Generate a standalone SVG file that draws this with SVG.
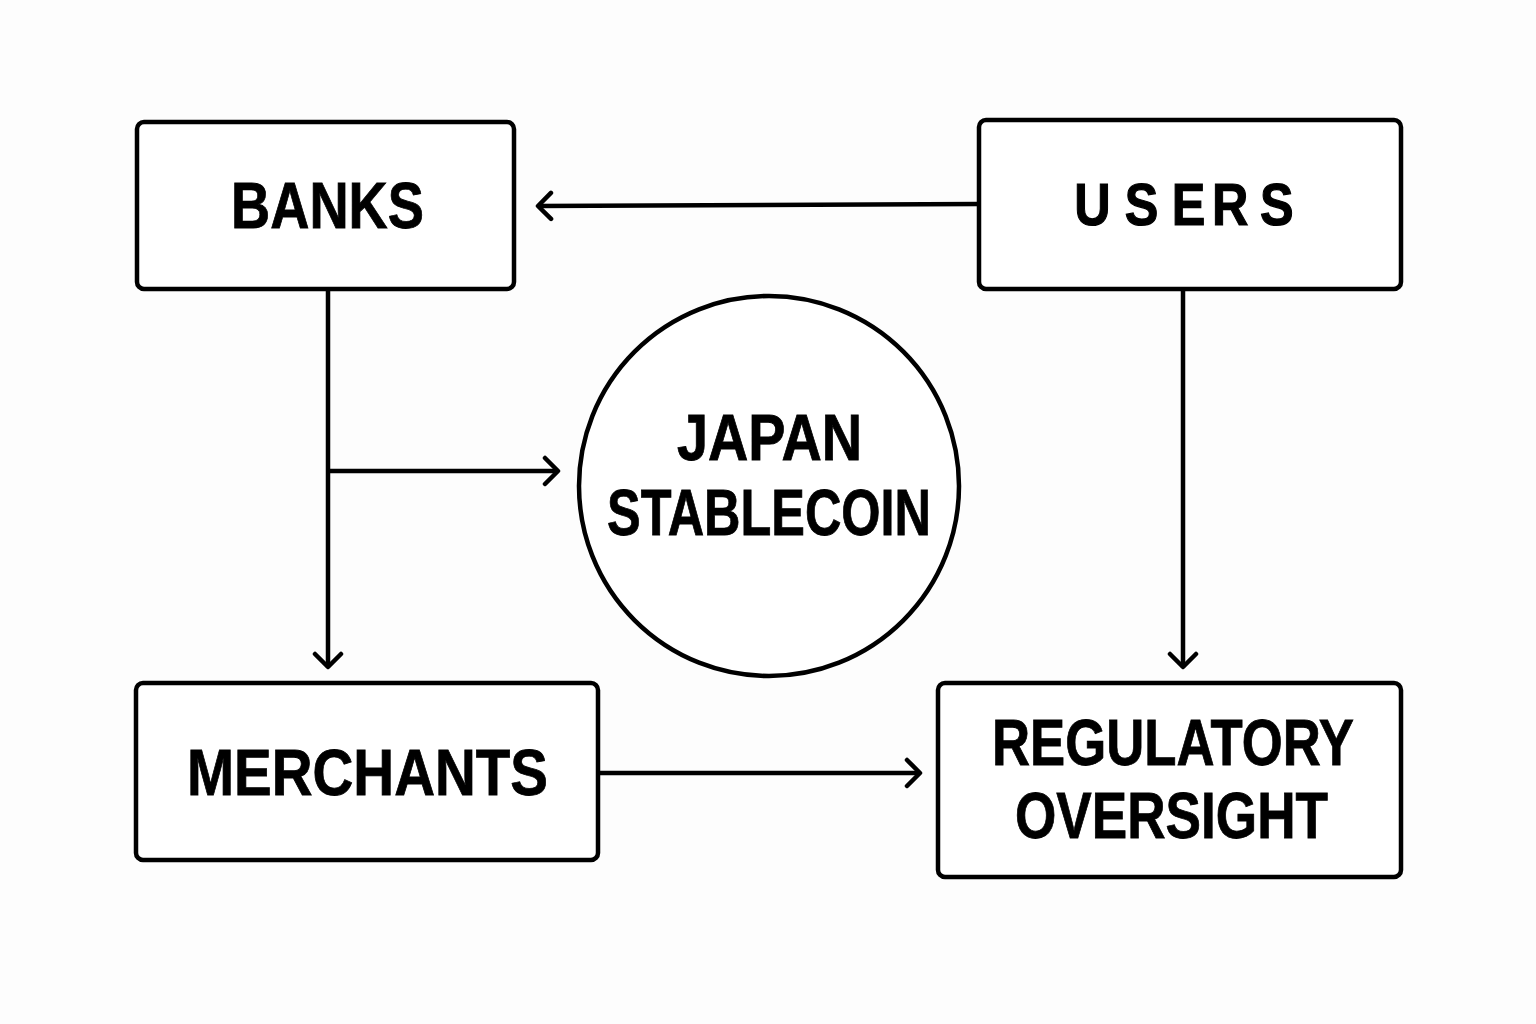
<svg xmlns="http://www.w3.org/2000/svg" width="1536" height="1024" viewBox="0 0 1536 1024">
<style>
.box{fill:#fff;stroke:#000;stroke-width:4.5}
.lbl{font-family:"Liberation Sans",Arial,sans-serif;font-weight:bold;font-size:64px;fill:#000;stroke:#000;stroke-width:0.8}
.con{stroke:#000;stroke-width:4.5;fill:none}
</style>
<defs>
<marker id="ah" viewBox="0 0 30 32" refX="22" refY="16" markerWidth="30" markerHeight="32" markerUnits="userSpaceOnUse" orient="auto">
<path d="M9 3 L22 16 L9 29" fill="none" stroke="#000" stroke-width="4.5" stroke-linecap="round" stroke-linejoin="round"/>
</marker>
</defs>
<rect width="1536" height="1024" fill="#fdfdfd"/>
<g id="connectors">
<line class="con" x1="979" y1="204" x2="538" y2="206" marker-end="url(#ah)"/>
<line class="con" x1="328" y1="289" x2="328" y2="667" marker-end="url(#ah)"/>
<line class="con" x1="328" y1="471" x2="558" y2="471" marker-end="url(#ah)"/>
<line class="con" x1="1183" y1="289" x2="1183" y2="667" marker-end="url(#ah)"/>
<line class="con" x1="598" y1="773" x2="920" y2="773" marker-end="url(#ah)"/>
</g>
<g id="banks">
<rect class="box" x="137" y="122" width="377" height="167" rx="7"/>
<text class="lbl" x="231" y="228" textLength="193" lengthAdjust="spacingAndGlyphs">BANKS</text>
</g>
<g id="users">
<rect class="box" x="979" y="120" width="422" height="169" rx="7"/>
<text class="lbl" style="stroke-width:1.2;font-size:60px" transform="matrix(0.84 0 0 1 0 0)" x="1279 1339 1395 1443 1500" y="225">USERS</text>
</g>
<g id="stablecoin">
<circle class="box" cx="769" cy="486" r="190"/>
<text class="lbl" x="677" y="460" textLength="185" lengthAdjust="spacingAndGlyphs">JAPAN</text>
<text class="lbl" x="607" y="535" textLength="324" lengthAdjust="spacingAndGlyphs">STABLECOIN</text>
</g>
<g id="merchants">
<rect class="box" x="136" y="683" width="462" height="177" rx="7"/>
<text class="lbl" x="187" y="795" textLength="361" lengthAdjust="spacingAndGlyphs">MERCHANTS</text>
</g>
<g id="regulatory">
<rect class="box" x="938" y="683" width="463" height="194" rx="7"/>
<text class="lbl" x="992" y="765" textLength="362" lengthAdjust="spacingAndGlyphs">REGULATORY</text>
<text class="lbl" x="1015" y="838" textLength="313" lengthAdjust="spacingAndGlyphs">OVERSIGHT</text>
</g>
</svg>
